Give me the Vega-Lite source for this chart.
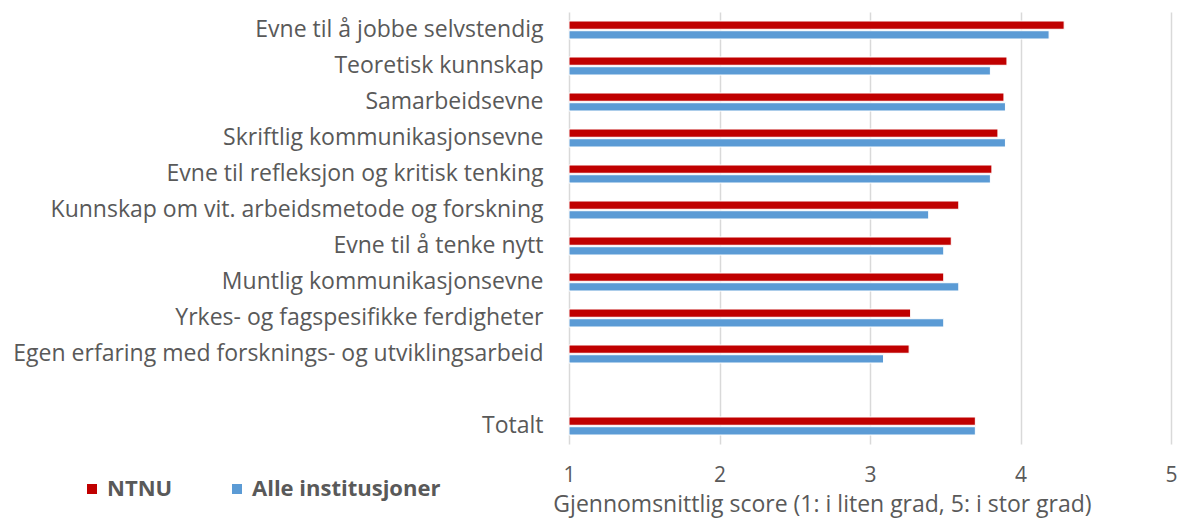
{
  "$schema": "https://vega.github.io/schema/vega-lite/v6.json",
  "autosize": "none",
  "padding": {"left": 569, "top": 12, "right": 8, "bottom": 74},
  "width": 602,
  "height": 432,
  "background": "white",
  "config": {
    "view": {"stroke": null},
    "font": "Open Sans"
  },
  "data": {
    "values": [
      {"kategori": "Evne til å jobbe selvstendig", "org": "NTNU", "score": 4.29},
      {"kategori": "Evne til å jobbe selvstendig", "org": "Alle institusjoner", "score": 4.19},
      {"kategori": "Teoretisk kunnskap", "org": "NTNU", "score": 3.91},
      {"kategori": "Teoretisk kunnskap", "org": "Alle institusjoner", "score": 3.80},
      {"kategori": "Samarbeidsevne", "org": "NTNU", "score": 3.89},
      {"kategori": "Samarbeidsevne", "org": "Alle institusjoner", "score": 3.90},
      {"kategori": "Skriftlig kommunikasjonsevne", "org": "NTNU", "score": 3.85},
      {"kategori": "Skriftlig kommunikasjonsevne", "org": "Alle institusjoner", "score": 3.90},
      {"kategori": "Evne til refleksjon og kritisk tenking", "org": "NTNU", "score": 3.81},
      {"kategori": "Evne til refleksjon og kritisk tenking", "org": "Alle institusjoner", "score": 3.80},
      {"kategori": "Kunnskap om vit. arbeidsmetode og forskning", "org": "NTNU", "score": 3.59},
      {"kategori": "Kunnskap om vit. arbeidsmetode og forskning", "org": "Alle institusjoner", "score": 3.39},
      {"kategori": "Evne til å tenke nytt", "org": "NTNU", "score": 3.54},
      {"kategori": "Evne til å tenke nytt", "org": "Alle institusjoner", "score": 3.49},
      {"kategori": "Muntlig kommunikasjonsevne", "org": "NTNU", "score": 3.49},
      {"kategori": "Muntlig kommunikasjonsevne", "org": "Alle institusjoner", "score": 3.59},
      {"kategori": "Yrkes- og fagspesifikke ferdigheter", "org": "NTNU", "score": 3.27},
      {"kategori": "Yrkes- og fagspesifikke ferdigheter", "org": "Alle institusjoner", "score": 3.49},
      {"kategori": "Egen erfaring med forsknings- og utviklingsarbeid", "org": "NTNU", "score": 3.26},
      {"kategori": "Egen erfaring med forsknings- og utviklingsarbeid", "org": "Alle institusjoner", "score": 3.09},
      {"kategori": "Totalt", "org": "NTNU", "score": 3.70},
      {"kategori": "Totalt", "org": "Alle institusjoner", "score": 3.70}
    ]
  },
  "mark": {"type": "bar", "stroke": "white", "strokeWidth": 1},
  "encoding": {
    "y": {
      "field": "kategori",
      "type": "nominal",
      "scale": {
        "domain": [
          "Evne til å jobbe selvstendig",
          "Teoretisk kunnskap",
          "Samarbeidsevne",
          "Skriftlig kommunikasjonsevne",
          "Evne til refleksjon og kritisk tenking",
          "Kunnskap om vit. arbeidsmetode og forskning",
          "Evne til å tenke nytt",
          "Muntlig kommunikasjonsevne",
          "Yrkes- og fagspesifikke ferdigheter",
          "Egen erfaring med forsknings- og utviklingsarbeid",
          " ",
          "Totalt"
        ],
        "paddingInner": 0.5,
        "paddingOuter": 0.25
      },
      "axis": {
        "title": null,
        "ticks": false,
        "domain": false,
        "grid": false,
        "labelFontSize": 23,
        "labelColor": "#595959",
        "labelPadding": 26,
        "labelLimit": 600
      }
    },
    "yOffset": {
      "field": "org",
      "type": "nominal",
      "sort": ["NTNU", "Alle institusjoner"],
      "scale": {"paddingInner": 0.15, "paddingOuter": 0}
    },
    "x": {
      "field": "score",
      "type": "quantitative",
      "scale": {"domain": [1, 5], "zero": false, "nice": false},
      "axis": {
        "values": [1, 2, 3, 4, 5],
        "title": "Gjennomsnittlig score (1: i liten grad, 5: i stor grad)",
        "titleFontSize": 23,
        "titleFontWeight": "normal",
        "titleColor": "#595959",
        "titleX": 253,
        "titlePadding": 8,
        "labelFontSize": 21,
        "labelColor": "#595959",
        "labelPadding": 20,
        "labelFlush": false,
        "ticks": false,
        "domain": false,
        "grid": true,
        "gridColor": "#D9D9D9",
        "gridWidth": 1.5
      }
    },
    "x2": {"datum": 1},
    "color": {
      "field": "org",
      "type": "nominal",
      "scale": {"domain": ["NTNU", "Alle institusjoner"], "range": ["#C00000", "#5B9BD5"]},
      "legend": {
        "title": null,
        "orient": "none",
        "direction": "horizontal",
        "legendX": -488,
        "legendY": 466,
        "symbolType": "square",
        "symbolSize": 100,
        "symbolStrokeWidth": 0,
        "labelFontSize": 22,
        "labelFontWeight": "bold",
        "labelColor": "#595959",
        "labelOffset": 4,
        "labelLimit": 400,
        "columnPadding": 53
      }
    }
  }
}
